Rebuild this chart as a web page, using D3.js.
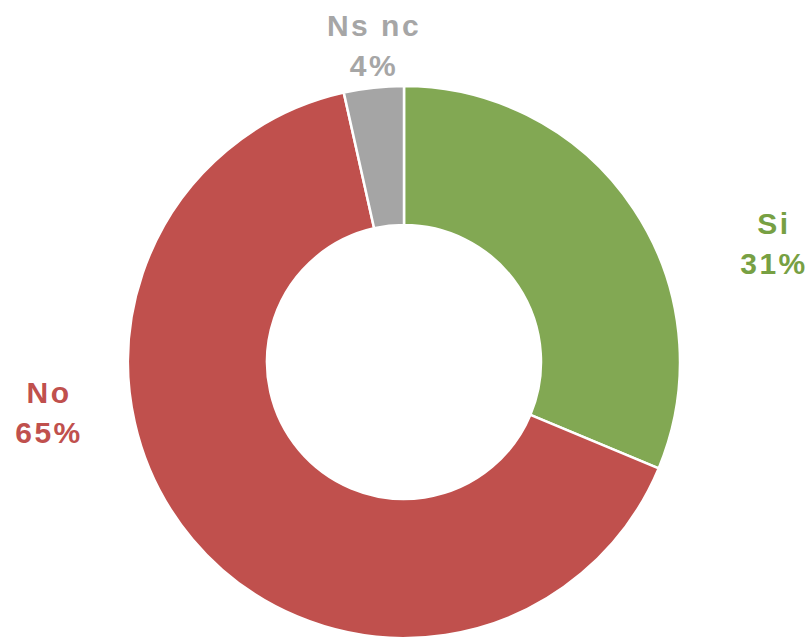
<!DOCTYPE html>
<html>
<head>
<meta charset="utf-8">
<script src="https://cdn.jsdelivr.net/npm/d3@7"></script>
<style>
  html, body { margin: 0; padding: 0; background: #ffffff; }
  svg { display: block; }
</style>
</head>
<body>
<svg id="chart" width="812" height="637"></svg>
<script>
const categories = ["Si", "No", "Ns nc"];
const values = [31.3, 65.2, 3.5];
const valueLabels = ["31%", "65%", "4%"];
const colors = ["#82A853", "#C0504D", "#A5A5A5"];
const labelColors = ["#77A043", "#C0504D", "#A6A6A6"];

const svg = d3.select("#chart");
const cx = 404, cy = 362;
const outerR = 276, innerR = 137;

// label anchor layout (centre x, first baseline y)
const labelLayout = {
  "Si":    { x: 773, y: 234 },
  "No":    { x: 48,  y: 403 },
  "Ns nc": { x: 373, y: 36 }
};
const lineGap = 40;

const data = categories.map((c, i) => ({ cat: c, value: values[i], label: valueLabels[i], color: colors[i], lcolor: labelColors[i] }));

const pie = d3.pie().value(d => d.value).sort(null).startAngle(0).endAngle(2 * Math.PI);
const arc = d3.arc().innerRadius(innerR).outerRadius(outerR);

const g = svg.append("g").attr("transform", `translate(${cx},${cy})`);
const arcs = pie(data);

g.selectAll("path.slice")
  .data(arcs)
  .join("path")
  .attr("class", "slice")
  .attr("d", arc)
  .attr("fill", d => d.data.color)
  .attr("stroke", "#ffffff")
  .attr("stroke-width", 2.5)
  .attr("stroke-linejoin", "round");

const labelGroup = svg.append("g");
arcs.forEach(a => {
  const p = labelLayout[a.data.cat];
  const t = labelGroup.append("text")
    .attr("text-anchor", "middle")
    .attr("font-family", "Liberation Sans, Arial, sans-serif")
    .attr("font-weight", "bold")
    .attr("font-size", 30)
    .attr("letter-spacing", 2.5)
    .attr("fill", a.data.lcolor);
  t.append("tspan").attr("x", p.x + 1).attr("y", p.y).text(a.data.cat);
  t.append("tspan").attr("x", p.x + 1).attr("y", p.y + lineGap).text(a.data.label);
});
</script>
</body>
</html>
